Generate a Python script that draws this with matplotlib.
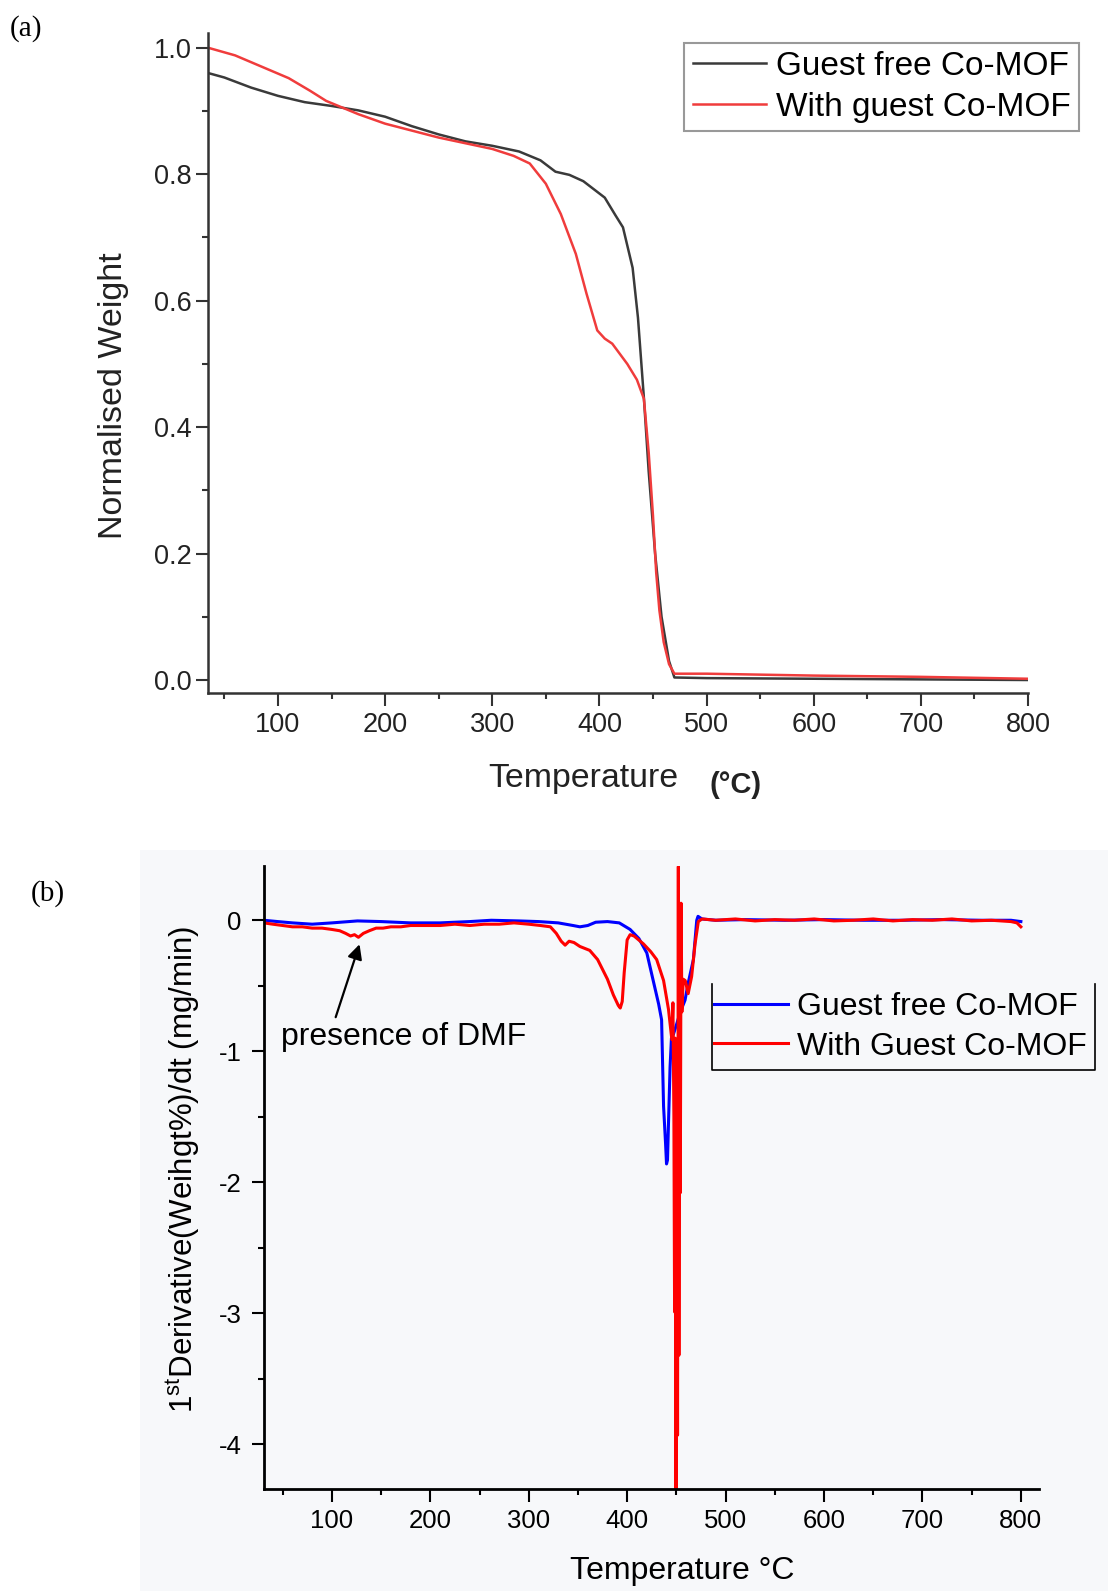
import matplotlib
matplotlib.use("Agg")
import matplotlib.pyplot as plt
from matplotlib.ticker import MultipleLocator
from matplotlib.patches import Rectangle
from matplotlib.lines import Line2D

plt.rcParams['font.family'] = ['Liberation Sans', 'DejaVu Sans']
plt.rcParams['mathtext.fontset'] = 'custom'
plt.rcParams['mathtext.rm'] = 'Liberation Sans'
plt.rcParams['axes.unicode_minus'] = False

# (a) TGA curves - normalised weight vs temperature
tga_free_T = [35, 50, 75, 100, 125, 150, 175, 200, 225, 250, 275, 300, 325, 345, 359,
              372, 385, 405, 415, 422, 431, 436, 441.5, 446, 452, 458, 465, 470, 500,
              600, 700, 800]
tga_free_W = [0.960, 0.953, 0.937, 0.924, 0.914, 0.908, 0.901, 0.891, 0.876, 0.863,
              0.852, 0.845, 0.836, 0.822, 0.804, 0.799, 0.789, 0.763, 0.735, 0.716,
              0.652, 0.573, 0.447, 0.33, 0.20, 0.10, 0.03, 0.004, 0.003, 0.002,
              0.001, 0.0]

tga_guest_T = [35, 60, 85, 110, 130, 145, 175, 200, 225, 250, 275, 300, 320, 335, 350,
               364, 378, 388, 398, 405, 412, 426, 435, 441.5, 446, 450, 453, 456, 460,
               465, 470, 500, 600, 700, 800]
tga_guest_W = [1.000, 0.988, 0.970, 0.952, 0.932, 0.916, 0.895, 0.880, 0.869, 0.858,
               0.849, 0.840, 0.829, 0.817, 0.785, 0.737, 0.674, 0.611, 0.553, 0.540,
               0.532, 0.500, 0.475, 0.445, 0.36, 0.26, 0.17, 0.11, 0.06, 0.025, 0.010,
               0.010, 0.007, 0.005, 0.002]

# (b) DTG curves - first derivative vs temperature
dtg_free_T = [31, 45, 60, 80, 100, 126, 150, 180, 210, 240, 262, 290, 310, 330, 345,
              352, 360, 368, 380, 392, 403, 412, 420, 428, 432, 435, 437, 439, 440,
              441, 442, 443.6, 445, 447, 450, 454, 458.8, 462, 467.3, 470.7, 472, 476,
              490, 520, 560, 600, 640, 680, 720, 760, 790, 800]
dtg_free_D = [0.0, -0.01, -0.02, -0.03, -0.02, -0.005, -0.01, -0.02, -0.02, -0.01, 0.0,
              -0.005, -0.01, -0.02, -0.04, -0.05, -0.04, -0.015, -0.01, -0.02, -0.07,
              -0.14, -0.25, -0.51, -0.64, -0.76, -1.42, -1.70, -1.86, -1.83, -1.55,
              -1.12, -0.90, -0.87, -0.80, -0.70, -0.61, -0.48, -0.30, 0.0, 0.03, 0.01,
              0.0, 0.005, 0.0, 0.005, 0.0, 0.0, 0.005, 0.0, 0.0, -0.01]

dtg_guest_T = [31, 40, 50, 60, 70, 80, 90, 100, 108, 114, 119, 123, 127, 132, 138, 145,
               152, 160, 170, 180, 195, 210, 225, 240, 255, 270, 285, 300, 312, 322,
               328, 333, 337, 341, 346, 352, 362, 370, 380, 386, 391, 393, 395, 397,
               400, 403, 407, 416.5, 424, 430, 437, 442, 445.4, 446.5, 447.5, 448.2,
               448.8, 449.6, 450.4, 451.2, 452.0, 452.6, 453.3, 454.0, 454.8, 455.6,
               457, 459, 462, 465.5, 469, 472.3, 476, 490, 510, 530, 550, 570, 590,
               610, 630, 650, 670, 690, 710, 730, 750, 770, 790, 796, 800]
dtg_guest_D = [-0.02, -0.03, -0.04, -0.05, -0.05, -0.06, -0.06, -0.07, -0.08, -0.10,
               -0.12, -0.11, -0.13, -0.10, -0.08, -0.06, -0.06, -0.05, -0.05, -0.04,
               -0.04, -0.04, -0.03, -0.04, -0.03, -0.03, -0.02, -0.03, -0.04, -0.05,
               -0.10, -0.16, -0.19, -0.16, -0.17, -0.20, -0.23, -0.30, -0.45, -0.57,
               -0.65, -0.67, -0.62, -0.40, -0.15, -0.11, -0.12, -0.18, -0.24, -0.30,
               -0.46, -0.68, -0.91, -0.63, -1.50, -2.99, -0.90, -4.50, -1.20, -3.93,
               0.41, -3.32, -0.50, -2.08, 0.13, -0.70, -0.45, -0.46, -0.56, -0.43,
               -0.18, -0.01, 0.01, 0.0, 0.01, -0.005, 0.005, 0.0, 0.01, -0.005, 0.0,
               0.01, -0.005, 0.005, 0.0, 0.01, -0.005, 0.0, -0.01, -0.02, -0.05]

fig = plt.figure(figsize=(11.08, 15.91), dpi=100)

# stippled background behind panel (b)
fig.patches.append(Rectangle((0.1264, 0.0), 0.8736, 0.4657, transform=fig.transFigure,
                             facecolor='#f7f8fa', edgecolor='none', zorder=-10))

# ---------- panel (a) ----------
ax1 = fig.add_axes([0.1877, 0.5644, 0.7401, 0.4151])
ax1.plot(tga_free_T, tga_free_W, color='#3a3a3a', lw=1.8, label='Guest free Co-MOF')
ax1.plot(tga_guest_T, tga_guest_W, color='#f03c3c', lw=1.8, label='With guest Co-MOF')
ax1.set_xlim(34.7, 800)
ax1.set_ylim(-0.0206, 1.024)
ax1.xaxis.set_major_locator(MultipleLocator(100))
ax1.xaxis.set_minor_locator(MultipleLocator(50))
ax1.yaxis.set_major_locator(MultipleLocator(0.2))
ax1.yaxis.set_minor_locator(MultipleLocator(0.1))
ax1.yaxis.set_major_formatter(plt.FormatStrFormatter('%.1f'))
for s in ['top', 'right']:
    ax1.spines[s].set_visible(False)
for s in ['left', 'bottom']:
    ax1.spines[s].set_linewidth(1.8)
    ax1.spines[s].set_color('#333333')
ax1.tick_params(which='major', direction='out', length=9, width=1.5, color='#333333',
                labelsize=19.5, labelcolor='#222222')
ax1.tick_params(which='minor', direction='out', length=4.5, width=1.5, color='#333333')
ax1.tick_params(axis='x', which='major', pad=5)
ax1.tick_params(axis='y', which='major', pad=3)
leg1 = ax1.legend(loc='upper right', bbox_to_anchor=(0.9738, 0.9732),
                  bbox_transform=fig.transFigure, borderaxespad=0, fontsize=24,
                  frameon=True, fancybox=False, edgecolor='#808080',
                  handlelength=2.2, handletextpad=0.3, borderpad=0.25, labelspacing=0.3)
leg1.get_frame().set_linewidth(1.5)

fig.text(113.6 / 1108, 1 - 396 / 1591, 'Normalised Weight', rotation=90, fontsize=24.5,
         ha='center', va='center', color='#222222')
fig.text(583 / 1108, 1 - 779 / 1591, 'Temperature', fontsize=24.4, ha='center',
         va='center', color='#222222')
fig.text(736 / 1108, 1 - 785 / 1591, '(°C)', fontsize=21, fontweight='bold',
         ha='center', va='center', color='#222222')
fig.text(10 / 1108, 1 - 28.5 / 1591, '(a)', family='Liberation Serif', fontsize=21,
         ha='left', va='center')

# ---------- panel (b) ----------
ax2 = fig.add_axes([0.2383, 0.0638, 0.6995, 0.3922])
ax2.set_facecolor('none')
ax2.plot(dtg_free_T, dtg_free_D, color='#0000ff', lw=2.2, label='Guest free Co-MOF')
ax2.plot(dtg_guest_T, dtg_guest_D, color='#ff0000', lw=2.2, label='With Guest Co-MOF')
ax2.set_xlim(31.1, 818.5)
ax2.set_ylim(-4.345, 0.418)
ax2.xaxis.set_major_locator(MultipleLocator(100))
ax2.xaxis.set_minor_locator(MultipleLocator(50))
ax2.yaxis.set_major_locator(MultipleLocator(1))
ax2.yaxis.set_minor_locator(MultipleLocator(0.5))
for s in ['top', 'right']:
    ax2.spines[s].set_visible(False)
for s in ['left', 'bottom']:
    ax2.spines[s].set_linewidth(2.0)
    ax2.spines[s].set_color('black')
ax2.tick_params(which='major', direction='out', length=9, width=1.5, labelsize=18.5)
ax2.tick_params(which='minor', direction='out', length=4.5, width=1.5)
ax2.tick_params(axis='x', which='major', pad=5)
ax2.tick_params(axis='y', which='major', pad=7)

# legend (b): open-topped frame, no fill
leg2 = ax2.legend(loc='upper right', bbox_to_anchor=(0.9883, 0.3815),
                  bbox_transform=fig.transFigure, borderaxespad=0, fontsize=23,
                  frameon=False, handlelength=2.3, handletextpad=0.3, borderpad=0.25,
                  labelspacing=0.3)
fig.canvas.draw()
bb = leg2.get_window_extent().transformed(fig.transFigure.inverted())
x0, x1 = bb.x0 + 0.005, 0.9883
y0, y1 = bb.y0, 0.3815
fig.add_artist(Line2D([x0, x0, x1, x1], [y1, y0, y0, y1], transform=fig.transFigure,
                      color='black', lw=1.2))

ax2.annotate('', xy=(129, -0.163), xytext=(103, -0.76),
             arrowprops=dict(arrowstyle='-|>', color='black', lw=1.6, mutation_scale=22))
ax2.text(48.5, -0.89, 'presence of DMF', fontsize=23, ha='left', va='center')

fig.text(183 / 1108, 1 - 1169 / 1591, r'1$^{\mathrm{st}}$Derivative(Weihgt%)/dt (mg/min)',
         rotation=90, fontsize=22.5, ha='center', va='center')
fig.text(682 / 1108, 1 - 1571 / 1591, 'Temperature °C', fontsize=23, ha='center',
         va='center')
fig.text(30.5 / 1108, 1 - 894 / 1591, '(b)', family='Liberation Serif', fontsize=21,
         ha='left', va='center')

fig.savefig('out.png', dpi=100)
